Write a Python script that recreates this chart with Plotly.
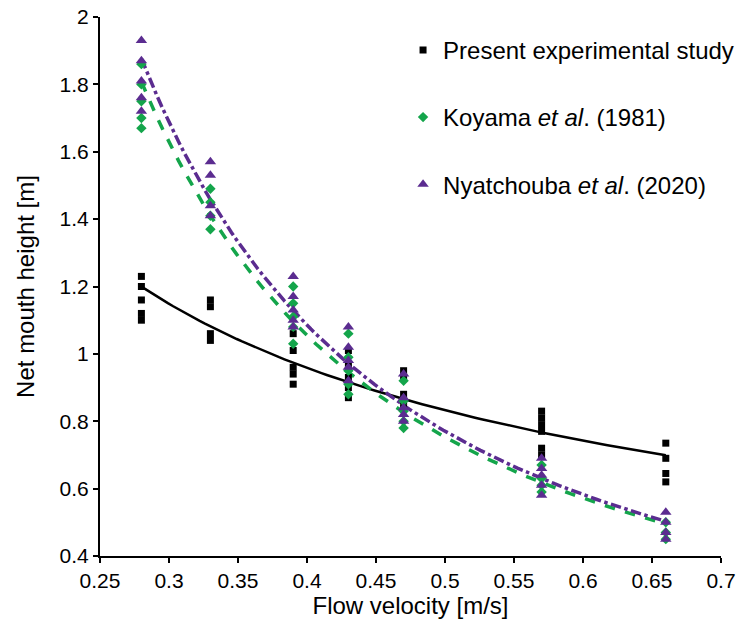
import numpy as np
import plotly.graph_objects as go

# Present experimental study
pres_x = [0.28]*5 + [0.33]*4 + [0.39]*5 + [0.43]*5 + [0.47]*5 + [0.57]*6 + [0.66]*4
pres_y = [1.23, 1.20, 1.16, 1.12, 1.10,
          1.16, 1.14, 1.06, 1.04,
          1.06, 1.01, 0.96, 0.94, 0.91,
          1.01, 0.97, 0.93, 0.90, 0.87,
          0.95, 0.93, 0.88, 0.86, 0.84,
          0.83, 0.81, 0.79, 0.77, 0.72, 0.70,
          0.735, 0.69, 0.645, 0.62]

# Koyama et al. (1981)
koy_x = [0.28]*5 + [0.33]*4 + [0.39]*5 + [0.43]*5 + [0.47]*5 + [0.57]*4 + [0.66]*3
koy_y = [1.86, 1.80, 1.75, 1.70, 1.67,
         1.49, 1.45, 1.41, 1.37,
         1.20, 1.15, 1.11, 1.08, 1.03,
         1.06, 0.99, 0.95, 0.91, 0.88,
         0.92, 0.86, 0.83, 0.80, 0.78,
         0.67, 0.63, 0.61, 0.59,
         0.50, 0.47, 0.45]

# Nyatchouba et al. (2020)
nya_x = [0.28]*5 + [0.33]*4 + [0.39]*5 + [0.43]*5 + [0.47]*5 + [0.57]*5 + [0.66]*4
nya_y = [1.93, 1.87, 1.81, 1.76, 1.72,
         1.57, 1.53, 1.44, 1.41,
         1.23, 1.17, 1.13, 1.10, 1.08,
         1.08, 1.02, 0.98, 0.96, 0.92,
         0.94, 0.87, 0.84, 0.82, 0.80,
         0.69, 0.66, 0.64, 0.61, 0.58,
         0.53, 0.50, 0.47, 0.45]

x_ticks = [0.25, 0.3, 0.35, 0.4, 0.45, 0.5, 0.55, 0.6, 0.65, 0.7]
y_ticks = [0.4, 0.6, 0.8, 1.0, 1.2, 1.4, 1.6, 1.8, 2.0]

BLACK = "#000000"
GREEN = "#14A54B"
PURPLE = "#5B2C90"


def power_fit(xs, ys):
    b, ln_a = np.polyfit(np.log(xs), np.log(ys), 1)
    xf = np.linspace(min(xs), max(xs), 100)
    return xf, np.exp(ln_a) * xf ** b


fig = go.Figure()

series = [
    ("Present experimental study", pres_x, pres_y, BLACK, "square", 7, "solid", 2.5),
    ("Koyama <i>et al</i>. (1981)", koy_x, koy_y, GREEN, "diamond", 8, "dash", 3.5),
    ("Nyatchouba <i>et al</i>. (2020)", nya_x, nya_y, PURPLE, "triangle-up", 10, "dashdot", 3.5),
]

# trend lines first (below markers)
for name, xs, ys, col, sym, sz, dash, lw in series:
    xf, yf = power_fit(xs, ys)
    fig.add_trace(go.Scatter(x=xf, y=yf, mode="lines", showlegend=False,
                             line=dict(color=col, width=lw, dash=dash),
                             hoverinfo="skip"))

for i, (name, xs, ys, col, sym, sz, dash, lw) in enumerate(series):
    fig.add_trace(go.Scatter(x=xs, y=ys, mode="markers", name=name,
                             legendgroup=f"g{i}",
                             marker=dict(color=col, symbol=sym, size=sz)))

fig.update_layout(
    width=746, height=628,
    margin=dict(l=100, r=25, t=17, b=72, autoexpand=False),
    plot_bgcolor="white", paper_bgcolor="white",
    font=dict(family="Liberation Sans, Arial, sans-serif", color="black", size=21),
    showlegend=True,
    legend=dict(x=0.488, y=0.98, xanchor="left", yanchor="top",
                font=dict(size=24), tracegroupgap=33,
                bgcolor="rgba(0,0,0,0)", itemsizing="trace"),
    xaxis=dict(range=[0.25, 0.7], tickvals=x_ticks,
               ticktext=[f"{v:g}" for v in x_ticks],
               showline=True, linecolor="black", linewidth=2,
               ticks="outside", ticklen=5, tickwidth=2, tickcolor="black",
               showgrid=False, zeroline=False, automargin=False,
               title=dict(text="Flow velocity [m/s]", font=dict(size=24), standoff=6)),
    yaxis=dict(range=[0.4, 2.0], tickvals=y_ticks,
               ticktext=[f"{v:g}" for v in y_ticks],
               showline=True, linecolor="black", linewidth=2,
               ticks="outside", ticklen=5, tickwidth=2, tickcolor="black",
               showgrid=False, zeroline=False, automargin=False,
               title=dict(text="Net mouth height [m]", font=dict(size=24), standoff=18)),
)

fig.write_html("out.html")
